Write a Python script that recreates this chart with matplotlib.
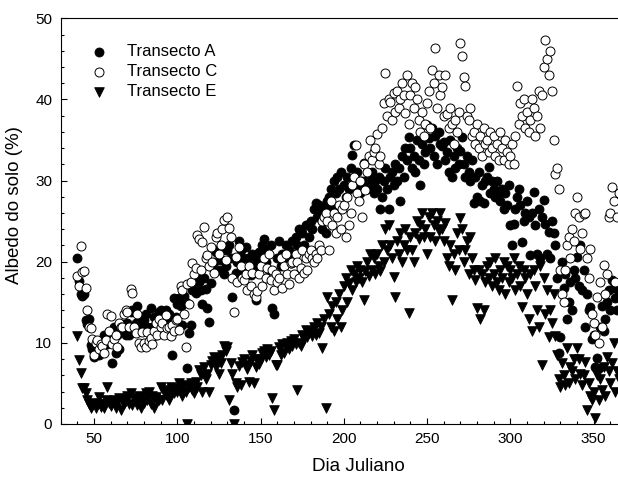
import numpy as np
import matplotlib
matplotlib.use('Agg')
import matplotlib.pyplot as plt
from matplotlib.ticker import MultipleLocator

plt.rcParams['font.family'] = ['Liberation Sans', 'DejaVu Sans']

# dias julianos de medicao (comuns aos tres transectos)
dias = [40, 41, 42, 43, 44, 45, 46, 47, 48, 49,
        50, 51, 52, 53, 54, 55, 56, 57, 58, 59,
        60, 61, 62, 63, 64, 65, 66, 67, 68, 69,
        70, 71, 72, 73, 74, 75, 76, 77, 78, 79,
        80, 81, 82, 83, 84, 85, 86, 87, 88, 89,
        90, 91, 92, 93, 94, 95, 96, 97, 98, 99,
        100, 101, 102, 103, 104, 105, 106, 107, 108, 109,
        110, 111, 112, 113, 114, 115, 116, 117, 118, 119,
        120, 121, 122, 123, 124, 125, 126, 127, 128, 129,
        130, 131, 132, 133, 134, 135, 136, 137, 138, 139,
        140, 141, 142, 143, 144, 145, 146, 147, 148, 149,
        150, 151, 152, 153, 154, 155, 156, 157, 158, 159,
        160, 161, 162, 163, 164, 165, 166, 167, 168, 169,
        170, 171, 172, 173, 174, 175, 176, 177, 178, 179,
        180, 181, 182, 183, 184, 185, 186, 187, 188, 189,
        190, 191, 192, 193, 194, 195, 196, 197, 198, 199,
        200, 201, 202, 203, 204, 205, 206, 207, 208, 209,
        210, 211, 212, 213, 214, 215, 216, 217, 218, 219,
        220, 221, 222, 223, 224, 225, 226, 227, 228, 229,
        230, 231, 232, 233, 234, 235, 236, 237, 238, 239,
        240, 241, 242, 243, 244, 245, 246, 247, 248, 249,
        250, 251, 252, 253, 254, 255, 256, 257, 258, 259,
        260, 261, 262, 263, 264, 265, 266, 267, 268, 269,
        270, 271, 272, 273, 274, 275, 276, 277, 278, 279,
        280, 281, 282, 283, 284, 285, 286, 287, 288, 289,
        290, 291, 292, 293, 294, 295, 296, 297, 298, 299,
        300, 301, 302, 303, 304, 305, 306, 307, 308, 309,
        310, 311, 312, 313, 314, 315, 316, 317, 318, 319,
        320, 321, 322, 323, 324, 325, 326, 327, 328, 329,
        330, 331, 332, 333, 334, 335, 336, 337, 338, 339,
        340, 341, 342, 343, 344, 345, 346, 347, 348, 349,
        350, 351, 352, 353, 354, 355, 356, 357, 358, 359,
        360, 361, 362, 363, 364, 365]

# albedo (%) - Transecto A
transecto_a = [20.5, 17.6, 16.0, 15.8, 16.0, 12.8, 12.3, 13.0, 9.7, 9.2,
               8.3, 10.0, 9.5, 8.5, 10.2, 9.2, 11.0, 10.0, 9.8, 11.2,
               11.4, 7.5, 12.0, 8.7, 11.0, 9.3, 11.5, 12.3, 12.2, 11.0,
               12.5, 11.0, 13.8, 14.0, 11.5, 12.5, 14.5, 12.8, 13.0, 11.8,
               12.8, 13.5, 12.0, 11.6, 14.3, 12.0, 13.2, 11.0, 12.5, 13.8,
               14.0, 12.5, 13.0, 14.0, 12.2, 13.6, 12.8, 8.5, 15.5, 13.2,
               14.8, 15.5, 14.5, 12.2, 15.8, 15.0, 6.9, 11.2, 12.2, 16.5,
               17.0, 16.2, 18.0, 17.5, 16.5, 14.8, 18.0, 16.6, 14.3, 12.6,
               17.4, 19.4, 20.0, 21.2, 21.5, 19.0, 20.2, 21.5, 18.5, 19.5,
               21.4, 22.0, 20.5, 15.7, 1.7, 18.6, 20.0, 22.5, 21.5, 19.0,
               20.5, 21.8, 19.0, 20.5, 18.4, 21.0, 19.5, 15.3, 20.3, 21.2,
               19.5, 22.0, 22.8, 20.0, 21.5, 19.0, 22.0, 14.3, 13.5, 18.0,
               20.5, 22.5, 19.5, 21.0, 20.0, 22.0, 20.5, 21.5, 19.8, 22.5,
               21.0, 23.0, 22.0, 24.0, 21.5, 23.5, 22.0, 24.5, 24.5, 23.0,
               25.0, 24.0, 26.5, 27.2, 25.5, 27.0, 26.0, 24.0, 26.8, 23.5,
               27.5, 28.0, 29.0, 26.5, 30.0, 28.5, 30.5, 29.0, 31.0, 26.8,
               29.5, 28.0, 30.5, 29.0, 31.5, 33.2, 34.4, 30.0, 31.0, 29.5,
               28.5, 30.0, 32.2, 29.0, 28.9, 30.5, 29.5, 31.0, 28.5, 30.0,
               29.0, 30.5, 26.5, 28.0, 30.0, 31.5, 29.0, 26.5, 30.5, 31.0,
               29.5, 32.0, 30.0, 31.5, 27.5, 33.0, 30.5, 34.0, 32.5, 35.4,
               34.0, 31.5, 33.0, 31.0, 35.0, 32.5, 29.5, 34.5, 32.0, 33.5,
               36.9, 35.2, 34.0, 36.5, 33.0, 35.5, 32.0, 36.0, 34.5, 34.2,
               34.8, 32.5, 33.5, 31.0, 35.0, 30.5, 33.0, 31.5, 34.0, 32.0,
               33.6, 35.4, 32.0, 30.5, 33.0, 31.0, 30.0, 32.5, 27.2, 30.5,
               28.0, 31.0, 27.5, 29.5, 27.2, 30.0, 30.5, 31.7, 28.5, 30.0,
               29.0, 28.0, 29.9, 28.5, 27.5, 29.0, 26.5, 28.5, 27.0, 29.5,
               24.5, 22.0, 24.7, 26.5, 28.0, 28.9, 27.0, 22.4, 25.0, 26.0,
               27.5, 25.5, 20.8, 26.0, 28.6, 24.5, 21.0, 26.5, 20.5, 25.5,
               27.6, 24.7, 21.0, 23.7, 20.5, 25.0, 23.5, 22.0, 18.0, 8.7,
               10.7, 20.0, 16.8, 18.5, 13.0, 15.0, 17.5, 14.0, 19.0, 18.0,
               20.6, 17.0, 22.0, 16.5, 19.0, 12.0, 16.0, 14.0, 14.4, 10.5,
               11.0, 7.0, 8.1, 6.9, 12.0, 14.5, 11.5, 13.0, 15.0, 16.5,
               14.0, 17.7, 16.8, 15.5, 14.0, 16.0]

# albedo (%) - Transecto C
transecto_c = [18.2, 17.0, 21.9, 18.7, 18.8, 16.8, 14.1, 12.0, 11.8, 10.5,
               8.5, 10.0, 10.3, 9.3, 9.8, 9.6, 8.7, 10.3, 13.6, 11.5,
               13.3, 9.8, 10.5, 11.0, 9.5, 12.5, 11.9, 12.0, 13.5, 14.0,
               13.8, 12.0, 16.6, 16.2, 12.0, 11.2, 13.6, 10.0, 9.5, 11.3,
               10.0, 9.5, 11.3, 10.2, 10.6, 9.8, 11.5, 12.5, 11.0, 13.0,
               12.0, 12.5, 11.0, 13.4, 11.8, 12.0, 10.8, 12.2, 11.5, 12.8,
               13.0, 11.6, 17.0, 16.5, 13.5, 9.5, 17.2, 14.8, 17.5, 19.8,
               18.5, 19.2, 23.3, 22.8, 19.0, 22.4, 24.3, 20.5, 20.8, 19.5,
               21.8, 20.0, 18.6, 23.0, 23.5, 21.0, 22.0, 24.0, 25.2, 20.2,
               25.5, 24.2, 23.0, 18.0, 13.8, 20.6, 17.5, 21.8, 19.5, 18.0,
               17.8, 18.5, 16.5, 19.5, 17.0, 18.6, 16.0, 15.6, 16.4, 18.5,
               19.5, 17.0, 20.5, 18.0, 19.2, 21.0, 17.8, 19.0, 16.5, 18.5,
               17.5, 18.0, 20.5, 16.8, 19.5, 21.0, 18.5, 17.2, 19.8, 20.0,
               18.5, 21.0, 20.0, 18.0, 19.2, 21.5, 18.6, 20.5, 19.0, 21.0,
               21.5, 20.5, 20.0, 21.0, 20.5, 22.0, 21.5, 25.0, 25.5, 26.0,
               25.0, 21.5, 27.5, 24.5, 26.0, 23.5, 25.5, 27.0, 24.0, 26.5,
               27.0, 23.0, 28.0, 24.5, 26.0, 29.5, 30.5, 34.4, 28.5, 27.5,
               30.0, 25.5, 32.0, 28.8, 31.0, 33.0, 35.0, 32.5, 33.5, 34.0,
               35.8, 32.0, 33.0, 36.5, 39.5, 43.2, 38.0, 40.0, 39.7, 37.5,
               40.8, 38.5, 41.0, 39.0, 40.0, 42.0, 40.5, 38.3, 43.0, 37.0,
               40.5, 42.0, 39.0, 41.5, 40.0, 37.5, 36.0, 38.5, 35.5, 37.0,
               39.6, 41.0, 36.5, 43.6, 42.0, 46.3, 39.0, 43.0, 40.5, 41.5,
               38.0, 43.0, 38.2, 36.5, 39.0, 37.0, 34.5, 37.5, 36.0, 38.5,
               47.0, 45.3, 42.8, 41.7, 38.0, 37.5, 39.0, 35.5, 36.0, 34.5,
               37.0, 34.0, 35.5, 33.0, 36.5, 34.5, 35.0, 33.5, 36.0, 34.0,
               35.5, 33.0, 34.5, 32.5, 36.0, 34.0, 32.5, 35.0, 33.5, 32.0,
               33.0, 34.5, 32.0, 35.5, 41.6, 37.0, 39.5, 38.0, 40.0, 36.5,
               38.5, 36.0, 37.5, 40.0, 39.0, 35.5, 38.0, 41.0, 36.5, 40.5,
               44.0, 47.3, 45.0, 43.0, 46.0, 41.0, 35.0, 30.8, 31.5, 29.0,
               19.0, 16.0, 15.0, 19.0, 22.0, 23.0, 20.5, 24.0, 22.5, 26.0,
               28.0, 25.5, 21.6, 23.5, 25.9, 26.0, 20.5, 18.0, 21.6, 13.5,
               12.5, 11.0, 15.6, 10.0, 17.5, 12.0, 19.6, 16.0, 18.5, 25.5,
               26.0, 29.2, 27.5, 17.5, 25.5, 28.5]

# albedo (%) - Transecto E
transecto_e = [10.8, 7.9, 6.3, 4.4, 4.4, 3.8, 3.0, 2.5, 2.0, 2.2,
               2.6, 2.0, 2.5, 3.3, 2.1, 2.5, 2.0, 3.0, 4.5, 2.6,
               2.2, 2.8, 3.0, 2.0, 2.7, 3.2, 1.7, 3.0, 2.5, 2.8,
               3.5, 2.5, 3.8, 2.3, 3.2, 3.0, 2.4, 3.5, 2.0, 3.2,
               2.6, 3.8, 3.0, 4.0, 2.5, 3.5, 2.0, 3.3, 2.8, 3.0,
               4.6, 3.0, 4.0, 4.2, 3.5, 3.0, 4.6, 4.0, 3.8, 4.4,
               4.0, 5.0, 4.3, 3.5, 4.8, 4.0, 0.0, 4.5, 5.0, 4.2,
               3.8, 5.2, 4.6, 6.7, 6.0, 4.0, 7.0, 5.5, 6.2, 4.0,
               7.3, 7.8, 8.2, 7.0, 8.0, 6.2, 7.5, 8.5, 9.6, 9.0,
               9.5, 3.0, 7.5, 6.2, 0.0, 5.0, 4.6, 7.2, 4.8, 7.6,
               8.0, 7.3, 6.8, 5.2, 7.8, 8.5, 5.0, 7.0, 8.0, 7.4,
               8.0, 8.8, 9.0, 8.2, 9.2, 8.5, 9.0, 3.2, 1.7, 7.3,
               7.3, 9.5, 8.5, 9.8, 8.8, 9.5, 10.0, 9.2, 10.2, 9.6,
               10.5, 9.8, 4.2, 10.0, 9.6, 11.0, 10.5, 11.6, 10.7, 11.2,
               11.5, 10.8, 12.0, 11.0, 12.5, 11.2, 12.0, 9.4, 13.0, 2.0,
               15.6, 13.5, 12.0, 14.5, 11.5, 15.0, 13.0, 16.0, 12.0, 14.0,
               17.0, 18.0, 15.0, 17.4, 19.0, 16.5, 18.5, 17.5, 19.5, 18.0,
               19.0, 17.5, 15.3, 18.8, 20.0, 18.2, 21.0, 19.0, 20.5, 18.5,
               21.0, 19.5, 18.8, 22.0, 20.0, 24.0, 21.5, 24.5, 22.0, 20.5,
               18.1, 15.7, 22.5, 21.0, 23.5, 20.0, 22.0, 24.0, 21.5, 13.7,
               23.0, 21.5, 20.0, 23.5, 25.0, 22.8, 24.5, 26.0, 23.0, 24.0,
               21.0, 25.5, 23.0, 26.0, 24.5, 22.5, 25.0, 23.8, 26.0, 24.0,
               22.5, 24.8, 20.5, 19.5, 22.0, 15.3, 21.0, 19.0, 23.5, 21.5,
               25.4, 24.0, 20.0, 21.5, 22.5, 18.5, 23.0, 20.5, 19.0, 17.8,
               14.3, 19.0, 13.0, 18.5, 14.0, 17.5, 19.5, 18.0, 20.0, 17.0,
               18.5, 20.5, 17.5, 16.5, 19.0, 18.0, 20.0, 16.0, 19.5, 17.5,
               19.0, 18.0, 20.5, 16.5, 18.5, 19.5, 17.0, 14.4, 19.0, 18.0,
               16.0, 13.0, 18.5, 11.5, 19.0, 17.0, 14.0, 12.0, 19.5, 7.3,
               18.0, 13.5, 16.5, 10.7, 14.0, 12.5, 16.0, 10.8, 8.5, 5.5,
               4.6, 7.5, 6.0, 4.8, 9.4, 5.0, 7.0, 6.5, 8.0, 5.5,
               9.4, 8.0, 6.2, 4.8, 6.0, 7.6, 1.7, 5.0, 3.5, 3.0,
               4.0, 0.7, 6.0, 3.0, 5.5, 4.2, 7.0, 3.5, 8.3, 6.5,
               5.0, 7.5, 10.0, 4.0, 6.5, 5.5]

fig = plt.figure(figsize=(6.18, 4.8), dpi=100)
ax = fig.add_axes([0.0982, 0.1167, 0.9018, 0.8452])

ax.scatter(dias, transecto_a, s=42, marker='o', facecolor='black', edgecolor='black',
           linewidth=0.6, label='Transecto A', zorder=3)
ax.scatter(dias, transecto_c, s=42, marker='o', facecolor='white', edgecolor='black',
           linewidth=0.7, label='Transecto C', zorder=3)
ax.scatter(dias, transecto_e, s=48, marker='v', facecolor='black', edgecolor='black',
           linewidth=0.6, label='Transecto E', zorder=3)

ax.set_xlim(30, 364.6)
ax.set_ylim(0, 50)
ax.xaxis.set_major_locator(MultipleLocator(50))
ax.xaxis.set_minor_locator(MultipleLocator(10))
ax.yaxis.set_major_locator(MultipleLocator(10))
ax.yaxis.set_minor_locator(MultipleLocator(2))
ax.tick_params(which='both', direction='in', top=False, right=False, labelsize=11, pad=6)
ax.tick_params(which='major', length=4.5, width=0.8)
ax.tick_params(which='minor', length=2.5, width=0.8)
ax.spines['right'].set_visible(False)
for s in ['left', 'bottom', 'top']:
    ax.spines[s].set_linewidth(0.8)

ax.set_xlabel('Dia Juliano', fontsize=13.5)
ax.set_ylabel('Albedo do solo (%)', fontsize=13.5)
ax.xaxis.set_label_coords(0.535, -0.085)
ax.yaxis.set_label_coords(-0.068, 0.54)

ax.legend(loc='upper left', bbox_to_anchor=(0.042, 0.952), frameon=False, fontsize=12,
          handlelength=1.0, handletextpad=1.18, labelspacing=0.3, borderaxespad=0)

fig.savefig('out.png', dpi=100)
